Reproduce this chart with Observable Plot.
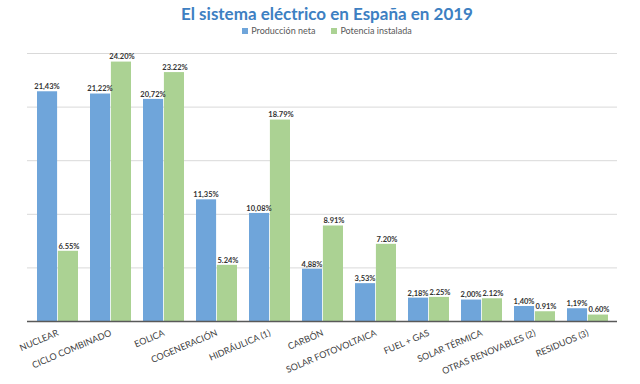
<!DOCTYPE html>
<html>
<head>
<meta charset="utf-8">
<script src="https://cdn.jsdelivr.net/npm/d3@7"></script>
<script src="https://cdn.jsdelivr.net/npm/@observablehq/plot@0.6"></script>
<style>
  body { margin: 0; background: #fff; font-family: Lato, "Open Sans", sans-serif; }
  #wrap { width: 640px; }
  .title { text-align: center; font-size: 17px; font-weight: bold; color: #3d80c2; padding-left: 14px; height: 22px; line-height: 22px; padding-top: 3px; }
  .legend { text-align: center; font-size: 9px; color: #595959; padding-left: 14px; height: 15px; line-height: 12px; }
  .legend span.sw { display: inline-block; width: 6px; height: 6px; margin-right: 3px; vertical-align: 0px; }
  .legend span.item { margin: 0 8px; }
</style>
</head>
<body>
<div id="wrap">
  <div class="title">El sistema eléctrico en España en 2019</div>
  <div class="legend" id="legend"></div>
  <div id="chart"></div>
</div>
<script>
const categories = ["NUCLEAR", "CICLO COMBINADO", "EOLICA", "COGENERACIÓN", "HIDRÁULICA (1)", "CARBÓN", "SOLAR FOTOVOLTAICA", "FUEL + GAS", "SOLAR TÉRMICA", "OTRAS RENOVABLES (2)", "RESIDUOS (3)"];
const produccionNeta = [21.43, 21.22, 20.72, 11.35, 10.08, 4.88, 3.53, 2.18, 2.00, 1.40, 1.19];
const potenciaInstalada = [6.55, 24.20, 23.22, 5.24, 18.79, 8.91, 7.20, 2.25, 2.12, 0.91, 0.60];
const seriesNames = ["Producción neta", "Potencia instalada"];
const seriesColors = ["#6fa5da", "#abd293"];
const gridValues = [5, 10, 15, 20, 25];

const blue = categories.map((c, i) => ({cat: c, v: produccionNeta[i], label: produccionNeta[i].toFixed(2).replace(".", ",") + "%"}));
const green = categories.map((c, i) => ({cat: c, v: potenciaInstalada[i], label: potenciaInstalada[i].toFixed(2) + "%"}));

document.getElementById("legend").innerHTML = seriesNames.map((n, i) =>
  `<span class="item"><span class="sw" style="background:${seriesColors[i]}"></span>${n}</span>`).join("");

const half = 20.9;
const chart = Plot.plot({
  width: 640,
  height: 344,
  marginLeft: 27,
  marginRight: 23,
  marginTop: 13,
  marginBottom: 63,
  style: {fontFamily: "Lato, 'Open Sans', sans-serif", background: "#fff"},
  x: {domain: categories, paddingInner: 0.23, paddingOuter: 0.12, label: null},
  y: {domain: [0, 25], axis: null},
  marks: [
    Plot.ruleY(gridValues, {stroke: "#d9d9d9", strokeWidth: 1}),
    Plot.barY(blue, {x: "cat", y: "v", fill: seriesColors[0], insetRight: half}),
    Plot.barY(green, {x: "cat", y: "v", fill: seriesColors[1], insetLeft: half}),
    Plot.ruleY([0], {stroke: "#595959", strokeWidth: 1.5}),
    Plot.text(blue, {x: "cat", y: "v", text: "label", dx: -11, dy: -5, fontSize: 7.5, fontWeight: "bold", fill: "#333"}),
    Plot.text(green, {x: "cat", y: "v", text: "label", dx: 11, dy: -5, fontSize: 7.5, fontWeight: "bold", fill: "#333"}),
    Plot.axisX({tickSize: 0, tickPadding: 11, tickRotate: -23, fontSize: 9, color: "#404040", label: null})
  ]
});
document.getElementById("chart").appendChild(chart);
</script>
</body>
</html>
